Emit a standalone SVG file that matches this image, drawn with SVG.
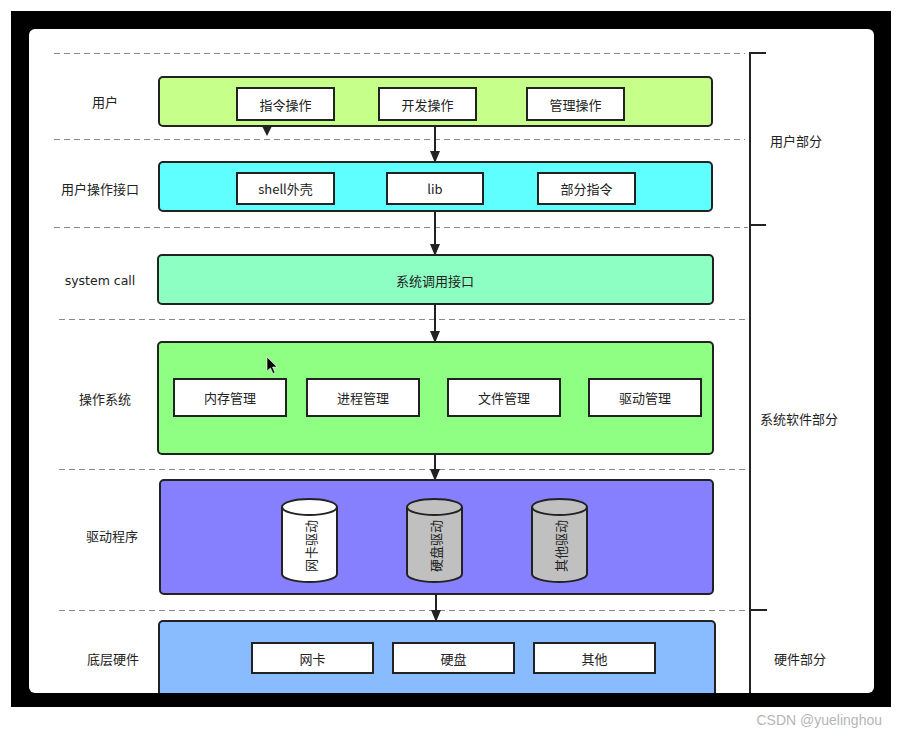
<svg xmlns="http://www.w3.org/2000/svg" width="897" height="738" viewBox="0 0 897 738">
<defs>
<style>
.t{font-family:"Noto Sans CJK SC","Liberation Sans",sans-serif;font-size:13px;fill:#222;text-anchor:middle;dominant-baseline:central}
.layer{stroke:#222;stroke-width:2}
.box{fill:#fff;stroke:#222;stroke-width:2}
.dash{stroke:#8a8a8a;stroke-width:1;stroke-dasharray:6 4;fill:none}
.conn{stroke:#222;stroke-width:2;fill:none}
.brace{stroke:#222;stroke-width:2;fill:none}
.cyl{stroke:#222;stroke-width:2}
</style>
<marker id="ah" viewBox="0 0 10 12" refX="10" refY="5" markerWidth="10" markerHeight="12" markerUnits="userSpaceOnUse" orient="auto">
<path d="M0,0 L12,5 L0,10 Z" fill="#222"/>
</marker>
<clipPath id="inner"><rect x="29" y="29" width="845" height="664" rx="6"/></clipPath>
</defs>
<rect x="0" y="0" width="897" height="738" fill="#fff"/>
<rect x="11" y="11" width="880" height="696" fill="#000"/>
<rect x="29" y="29" width="845" height="664" rx="6" fill="#fff"/>
<g clip-path="url(#inner)">
<g id="separators">
<line class="dash" x1="54" y1="53.5" x2="745" y2="53.5"/>
<line class="dash" x1="54" y1="139.5" x2="745" y2="139.5"/>
<line class="dash" x1="54" y1="227.5" x2="748" y2="227.5"/>
<line class="dash" x1="59" y1="319.5" x2="748" y2="319.5"/>
<line class="dash" x1="59" y1="469.5" x2="748" y2="469.5"/>
<line class="dash" x1="59" y1="610.5" x2="748" y2="610.5"/>
</g>
<g id="braces">
<path class="brace" d="M766,53 H750 V700"/>
<path class="brace" d="M750,225 H766"/>
<path class="brace" d="M750,610 H767"/>
</g>
<g id="layer-user">
<rect class="layer" x="159" y="77" width="553" height="49" rx="4" fill="#c6ff8a"/>
<rect class="box" x="237" y="88" width="97" height="32"/>
<text class="t" x="285.5" y="104">指令操作</text>
<rect class="box" x="379" y="88" width="97" height="32"/>
<text class="t" x="427.5" y="104">开发操作</text>
<rect class="box" x="527" y="88" width="97" height="32"/>
<text class="t" x="575.5" y="104">管理操作</text>
</g>
<g id="layer-ui">
<rect class="layer" x="159" y="162" width="553" height="49" rx="4" fill="#5fffff"/>
<rect class="box" x="237" y="173" width="97" height="31"/>
<text class="t" x="285.5" y="188.5">shell外壳</text>
<rect class="box" x="387" y="173" width="96" height="31"/>
<text class="t" x="435" y="188.5">lib</text>
<rect class="box" x="538" y="173" width="97" height="31"/>
<text class="t" x="586.5" y="188.5">部分指令</text>
</g>
<g id="layer-syscall">
<rect class="layer" x="158" y="255" width="555" height="49" rx="4" fill="#8effc2"/>
<text class="t" x="435" y="280">系统调用接口</text>
</g>
<g id="layer-os">
<rect class="layer" x="158" y="342" width="555" height="112" rx="4" fill="#8eff82"/>
<rect class="box" x="174" y="379" width="112" height="37"/>
<text class="t" x="230" y="397.5">内存管理</text>
<rect class="box" x="307" y="379" width="112" height="37"/>
<text class="t" x="363" y="397.5">进程管理</text>
<rect class="box" x="448" y="379" width="112" height="37"/>
<text class="t" x="504" y="397.5">文件管理</text>
<rect class="box" x="589" y="379" width="112" height="37"/>
<text class="t" x="645" y="397.5">驱动管理</text>
<path d="M267,357 L267,371 L270.5,368 L273,373.5 L275,372.5 L272.5,367 L277,367 Z" fill="#000" stroke="#fff" stroke-width="0.6"/>
</g>
<g id="layer-driver">
<rect class="layer" x="160" y="480" width="553" height="114" rx="4" fill="#8680ff"/>
<g id="cyl-nic">
<path class="cyl" d="M282,507 V574 A27.5,8 0 0 0 337,574 V507" fill="#fff"/>
<ellipse class="cyl" cx="309.5" cy="507" rx="27.5" ry="8" fill="#fff"/>
<text class="t" transform="translate(310,546) rotate(-90)">网卡驱动</text>
</g>
<g id="cyl-disk">
<path class="cyl" d="M407,507 V574 A27.5,8 0 0 0 462,574 V507" fill="#c0c0c0"/>
<ellipse class="cyl" cx="434.5" cy="507" rx="27.5" ry="8" fill="#c0c0c0"/>
<text class="t" transform="translate(435,546) rotate(-90)">硬盘驱动</text>
</g>
<g id="cyl-other">
<path class="cyl" d="M532,507 V574 A27.5,8 0 0 0 587,574 V507" fill="#c0c0c0"/>
<ellipse class="cyl" cx="559.5" cy="507" rx="27.5" ry="8" fill="#c0c0c0"/>
<text class="t" transform="translate(560,546) rotate(-90)">其他驱动</text>
</g>
</g>
<g id="layer-hw">
<rect class="layer" x="159" y="621" width="556" height="100" rx="4" fill="#88bbff"/>
<rect class="box" x="252" y="643" width="121" height="30"/>
<text class="t" x="312.5" y="658">网卡</text>
<rect class="box" x="393" y="643" width="121" height="30"/>
<text class="t" x="453.5" y="658">硬盘</text>
<rect class="box" x="534" y="643" width="121" height="30"/>
<text class="t" x="594.5" y="658">其他</text>
</g>
<g id="connectors">
<path d="M262,126 L272,126 L267,136 Z" fill="#222"/>
<line class="conn" x1="435" y1="127" x2="435" y2="161" marker-end="url(#ah)"/>
<line class="conn" x1="435" y1="212" x2="435" y2="254" marker-end="url(#ah)"/>
<line class="conn" x1="435" y1="305" x2="435" y2="341" marker-end="url(#ah)"/>
<line class="conn" x1="435" y1="455" x2="435" y2="479" marker-end="url(#ah)"/>
<line class="conn" x1="436" y1="595" x2="436" y2="620" marker-end="url(#ah)"/>
</g>
<g id="labels">
<text class="t" x="105" y="101">用户</text>
<text class="t" x="100" y="188">用户操作接口</text>
<text class="t" x="100" y="280" style="font-family:'DejaVu Sans','Liberation Sans',sans-serif;font-size:12.5px">system call</text>
<text class="t" x="105" y="398">操作系统</text>
<text class="t" x="112" y="535">驱动程序</text>
<text class="t" x="113" y="658">底层硬件</text>
<text class="t" x="796" y="140">用户部分</text>
<text class="t" x="799" y="418">系统软件部分</text>
<text class="t" x="800" y="658">硬件部分</text>
</g>
</g>
<text x="882" y="720" style="font-family:'Liberation Sans',sans-serif;font-size:14px;fill:#b5b5b5;text-anchor:end;dominant-baseline:central">CSDN @yuelinghou</text>
</svg>
